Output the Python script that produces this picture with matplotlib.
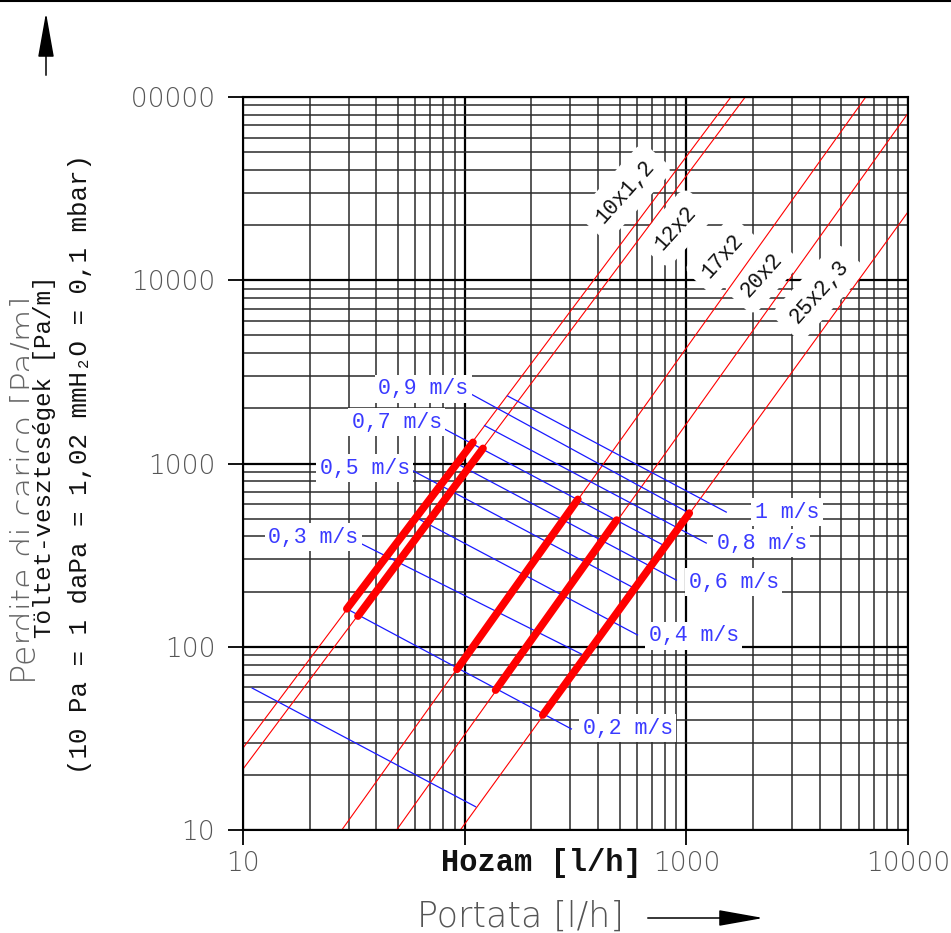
import matplotlib
matplotlib.use('Agg')
import matplotlib.pyplot as plt
from matplotlib.lines import Line2D
from matplotlib.ticker import FixedLocator, LogLocator, NullFormatter
from matplotlib.transforms import Bbox

# pipe characteristic lines (thin, full length) - endpoints
pipes = ['10x1,2', '12x2', '17x2', '20x2', '25x2,3']
pipe_q = [[10, 1590], [10, 1844], [27.9, 6450], [49.3, 10000], [95.6, 10000]]
pipe_dp = [[28.0, 100000], [21.5, 100000], [10, 100000], [10, 81600], [10, 23600]]

# recommended range (thick part) of each pipe
thick_q = [[29.4, 109], [33.0, 121], [92.3, 324], [137.9, 485], [225, 1031]]
thick_dp = [[161, 1304], [147, 1209], [75.3, 637], [58.0, 491], [42.4, 536]]

# constant velocity lines
vel_names = ['', '0,2 m/s', '0,3 m/s', '0,4 m/s', '0,5 m/s',
             '0,6 m/s', '0,7 m/s', '0,8 m/s', '0,9 m/s', '1 m/s']
vel_q = [[11.0, 112], [29.4, 303], [33.7, 342], [60.3, 602], [57.7, 577],
         [92, 902], [79.6, 796], [123, 1230], [105, 1031], [156, 1514]]
vel_dp = [[59.5, 13.4], [161, 35.6], [368, 90.3], [507, 116], [920, 210],
          [1000, 231], [1561, 356], [1610, 368], [2421, 536], [2338, 543]]

x_ticks = [10, 100, 1000, 10000]
x_ticklabels = ['10', '100', '1000', '10000']
y_ticks = [10, 100, 1000, 10000, 100000]
y_ticklabels = ['10', '100', '1000', '10000', '100000']

# label positions (data coords)
vel_label_pos = [None, (545, 36.0), (20.7, 397), (1082, 114.5), (35.5, 945),
                 (1639, 225.6), (49.5, 1684), (2193, 368), (64.9, 2551), (2843, 543)]
pipe_label_pos = [(528, 30300), (897, 19280), (1462, 13550), (2193, 10680), (3963, 8630)]

W, H = 951, 933
fig = plt.figure(figsize=(W / 100, H / 100), dpi=100)
ax = fig.add_axes([243 / W, 1 - 830 / H, 665 / W, 733 / H])
ax.set_xscale('log')
ax.set_yscale('log')
ax.set_xlim(10, 10000)
ax.set_ylim(10, 100000)

ax.xaxis.set_major_locator(FixedLocator(x_ticks))
ax.yaxis.set_major_locator(FixedLocator(y_ticks))
ax.set_xticklabels(x_ticklabels)
ax.set_yticklabels(y_ticklabels)
ax.xaxis.set_minor_locator(LogLocator(subs=range(2, 10)))
ax.yaxis.set_minor_locator(LogLocator(subs=range(2, 10)))
ax.xaxis.set_minor_formatter(NullFormatter())
ax.yaxis.set_minor_formatter(NullFormatter())

ax.set_axisbelow(True)
ax.grid(which='major', color='black', lw=1.6)
ax.grid(which='minor', color='#2a2a2a', lw=1.1)
ax.tick_params(which='major', length=11, width=1.3, pad=9, labelsize=19,
               labelcolor='#555555')
ax.tick_params(axis='x', which='major', pad=4)
ax.tick_params(which='minor', length=0)
for lab in ax.get_xticklabels() + ax.get_yticklabels():
    lab.set_fontweight('light')
for s in ax.spines.values():
    s.set_linewidth(1.5)

# thin red pipe lines + thick working ranges
for q, dp in zip(pipe_q, pipe_dp):
    ax.plot(q, dp, color='#ff0000', lw=0.8, zorder=2)
for q, dp in zip(thick_q, thick_dp):
    ax.plot(q, dp, color='#ff0000', lw=5.5, solid_capstyle='round', zorder=2.2)

# blue velocity lines
for q, dp in zip(vel_q, vel_dp):
    ax.plot(q, dp, color='#1a1aff', lw=0.9, zorder=2.1)

for name, pos in zip(vel_names, vel_label_pos):
    if pos is None:
        continue
    ax.text(pos[0], pos[1], name, ha='center', va='center', fontsize=15.5,
            family=['Liberation Mono', 'DejaVu Sans Mono'], color='#3a3aff',
            bbox=dict(fc='white', ec='none', pad=2.5), zorder=3)

for name, pos in zip(pipes, pipe_label_pos):
    ax.text(pos[0], pos[1], name, ha='center', va='center', rotation=48,
            rotation_mode='anchor', fontsize=15.5,
            family=['Liberation Mono', 'DejaVu Sans Mono'], color='#111111',
            bbox=dict(fc='white', ec='none', boxstyle='round,pad=0.5'), zorder=1.5)

# axis titles
fig.text(26 / W, 1 - 490 / H, 'Perdite di carico [Pa/m]', rotation=90,
         ha='center', va='center', fontsize=24, color='#666666',
         fontweight='light', zorder=1)
fig.text(45 / W, 1 - 457 / H, 'Töltet-veszteségek [Pa/m]', rotation=90,
         ha='center', va='center', fontsize=17.5, color='#111111',
         family=['Liberation Mono', 'DejaVu Sans Mono'],
         bbox=dict(fc='white', ec='none', pad=3), zorder=2)
fig.text(80 / W, 1 - 464 / H, '(10 Pa = 1 daPa = 1,02 mmH₂O = 0,1 mbar)',
         rotation=90, ha='center', va='center', fontsize=18.5, color='#111111',
         family=['Liberation Mono', 'DejaVu Sans Mono'], zorder=2)
fig.text(541 / W, 1 - 863 / H, 'Hozam [l/h]', ha='center', va='center',
         fontsize=22, fontweight='bold', color='#111111',
         family=['Liberation Mono', 'DejaVu Sans Mono'],
         bbox=dict(fc='white', ec='none', pad=1), zorder=4)
fig.text(520 / W, 1 - 917 / H, 'Portata [l/h]', ha='center', va='center',
         fontsize=25, color='#555555', fontweight='light')

# arrows
arrow = dict(arrowstyle='-|>,head_length=1.4,head_width=0.25',
             mutation_scale=20, color='black', lw=1.1)
ax.annotate('', xy=(766, H - 918), xytext=(645, H - 918),
            xycoords='figure pixels', textcoords='figure pixels',
            annotation_clip=False, arrowprops=arrow)
ax.annotate('', xy=(46, H - 10), xytext=(46, H - 78),
            xycoords='figure pixels', textcoords='figure pixels',
            annotation_clip=False, arrowprops=arrow)

fig.add_artist(Line2D([0, 1], [1 - 1 / H, 1 - 1 / H], transform=fig.transFigure,
                      color='black', lw=1.5))

# top y label is cut on the left in the original drawing
top_tick = ax.yaxis.get_major_ticks()[-1]
top_tick.label1.set_clip_box(Bbox.from_extents(130, 0, W, H))
top_tick.label1.set_clip_on(True)

fig.savefig('out.png', dpi=100)
